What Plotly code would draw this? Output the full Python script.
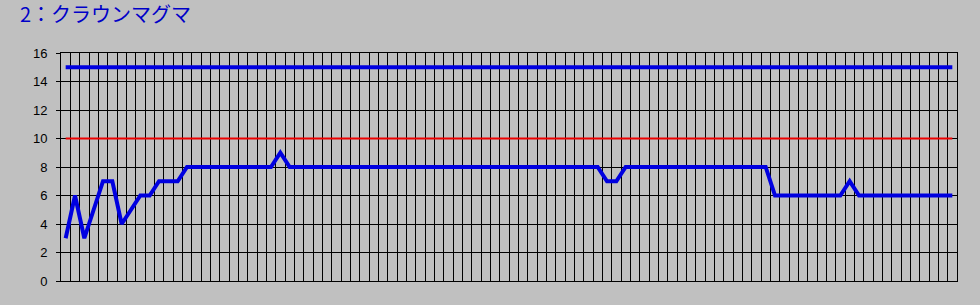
import plotly.graph_objects as go

title_text = "2：クラウンマグマ"
y_ticks = [0, 2, 4, 6, 8, 10, 12, 14, 16]
n_points = 96
series_values = [3, 6, 3, 5, 7, 7, 4, 5, 6, 6, 7, 7, 7] + [8] * 10 + [9] + [8] * 34 + [7, 7] + [8] * 16 + [6] * 8 + [7] + [6] * 11
upper_level = 15
mid_level = 10

x_idx = list(range(n_points))

fig = go.Figure()
fig.add_trace(go.Scatter(x=x_idx, y=[upper_level] * n_points, mode="lines",
                         line=dict(color="#0000E0", width=4), hoverinfo="skip"))
fig.add_trace(go.Scatter(x=x_idx, y=[mid_level] * n_points, mode="lines",
                         line=dict(color="#EE0000", width=2), hoverinfo="skip"))
fig.add_trace(go.Scatter(x=x_idx, y=series_values, mode="lines",
                         line=dict(color="#0000E0", width=4)))

fig.update_layout(
    width=980, height=305,
    margin=dict(l=61, r=23, t=53, b=24),
    paper_bgcolor="#C0C0C0", plot_bgcolor="#C0C0C0",
    showlegend=False,
    title=dict(text=title_text, x=20 / 980, xanchor="left", xref="container",
               y=1 - 15 / 305, yanchor="middle", yref="container",
               font=dict(family="Noto Sans CJK JP", size=20, color="#0000C8")),
    xaxis=dict(range=[-0.5, n_points - 0.5], tick0=-0.5, dtick=1,
               showticklabels=False, showgrid=True, gridcolor="black", gridwidth=1,
               zeroline=False, showline=True, linecolor="black", linewidth=1, mirror=True,
               ticks=""),
    yaxis=dict(range=[0, 16], tickvals=y_ticks, ticktext=[str(v) for v in y_ticks],
               showgrid=True, gridcolor="black", gridwidth=1, zeroline=False,
               showline=True, linecolor="black", linewidth=1, mirror=True,
               ticks="outside", ticklen=4, tickcolor="black",
               ticklabelstandoff=6,
               tickfont=dict(family="Liberation Sans", size=13, color="black")),
)

fig.write_html("out.html")
